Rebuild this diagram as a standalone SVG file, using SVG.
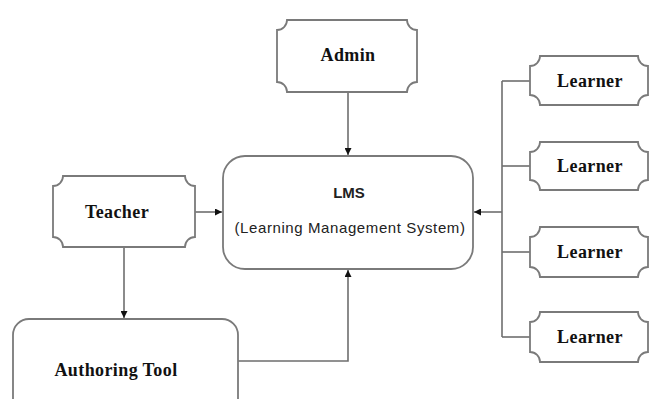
<svg xmlns="http://www.w3.org/2000/svg" width="650" height="399" viewBox="0 0 650 399">
<style>
.box{fill:#fff;stroke:#7a7a7a;stroke-width:1.8}
.ln{fill:none;stroke:#6e6e6e;stroke-width:1.6}
.t{font-family:"Liberation Serif","Times New Roman",serif;font-weight:bold;font-size:18px;letter-spacing:0.4px;fill:#111;text-anchor:middle;dominant-baseline:central}
.s{font-family:"Liberation Sans",Arial,sans-serif;fill:#222;text-anchor:middle;dominant-baseline:central}
</style>
<defs>
<marker id="ah" viewBox="0 0 10 10" refX="10" refY="5" markerWidth="7" markerHeight="7" markerUnits="userSpaceOnUse" orient="auto">
<path d="M0,0 L10,5 L0,10 Z" fill="#111"/>
</marker>
</defs>
<rect width="650" height="399" fill="#fff"/>
<g id="connectors">
<line class="ln" x1="348" y1="92" x2="348" y2="155" marker-end="url(#ah)"/>
<line class="ln" x1="195" y1="212" x2="222" y2="212" marker-end="url(#ah)"/>
<line class="ln" x1="124" y1="247" x2="124" y2="318" marker-end="url(#ah)"/>
<polyline class="ln" points="238,361 348,361 348,270" marker-end="url(#ah)"/>
<line class="ln" x1="502" y1="81" x2="502" y2="337"/>
<line class="ln" x1="502" y1="81" x2="530" y2="81"/>
<line class="ln" x1="502" y1="166" x2="530" y2="166"/>
<line class="ln" x1="502" y1="252" x2="530" y2="252"/>
<line class="ln" x1="502" y1="337" x2="530" y2="337"/>
<line class="ln" x1="502" y1="212" x2="474" y2="212" marker-end="url(#ah)"/>
</g>
<g id="admin">
<path class="box" d="M287,20 H407 A10,10 0 0 0 417,30 V82 A10,10 0 0 0 407,92 H287 A10,10 0 0 0 277,82 V30 A10,10 0 0 0 287,20 Z"/>
<text class="t" x="348" y="55">Admin</text>
</g>
<g id="teacher">
<path class="box" d="M63,176 H185 A10,10 0 0 0 195,186 V237 A10,10 0 0 0 185,247 H63 A10,10 0 0 0 53,237 V186 A10,10 0 0 0 63,176 Z"/>
<text class="t" x="117" y="212">Teacher</text>
</g>
<g id="lms">
<rect class="box" x="223" y="156" width="250" height="113" rx="22" ry="22"/>
<text class="s" x="349" y="192" font-size="15" font-weight="bold">LMS</text>
<text class="s" x="350" y="227" font-size="15" letter-spacing="0.6" fill="#444">(Learning Management System)</text>
</g>
<g id="authoring-tool">
<rect class="box" x="13" y="319" width="225" height="110" rx="16" ry="16"/>
<text class="t" x="116" y="370">Authoring Tool</text>
</g>
<g id="learner1">
<path class="box" d="M540,56 H638 A10,10 0 0 0 648,66 V95 A10,10 0 0 0 638,105 H540 A10,10 0 0 0 530,95 V66 A10,10 0 0 0 540,56 Z"/>
<text class="t" x="590" y="81">Learner</text>
</g>
<g id="learner2">
<path class="box" d="M540,142 H638 A10,10 0 0 0 648,152 V180 A10,10 0 0 0 638,190 H540 A10,10 0 0 0 530,180 V152 A10,10 0 0 0 540,142 Z"/>
<text class="t" x="590" y="166">Learner</text>
</g>
<g id="learner3">
<path class="box" d="M540,227 H638 A10,10 0 0 0 648,237 V267 A10,10 0 0 0 638,277 H540 A10,10 0 0 0 530,267 V237 A10,10 0 0 0 540,227 Z"/>
<text class="t" x="590" y="252">Learner</text>
</g>
<g id="learner4">
<path class="box" d="M540,312 H638 A10,10 0 0 0 648,322 V352 A10,10 0 0 0 638,362 H540 A10,10 0 0 0 530,352 V322 A10,10 0 0 0 540,312 Z"/>
<text class="t" x="590" y="337">Learner</text>
</g>
</svg>
